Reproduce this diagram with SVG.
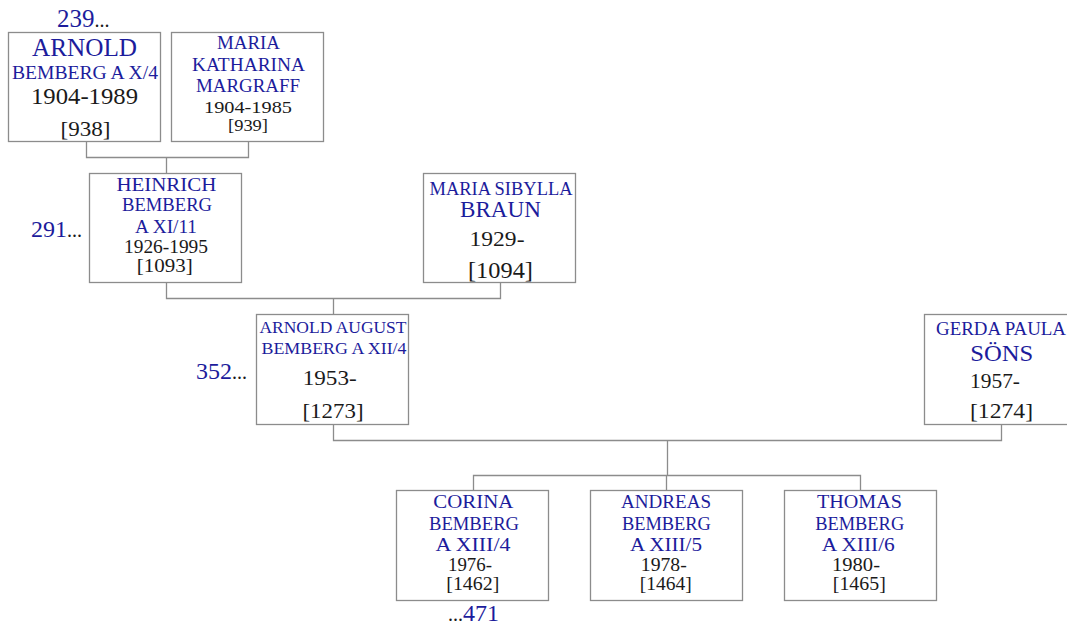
<svg xmlns="http://www.w3.org/2000/svg" width="1067" height="624" viewBox="0 0 1067 624">
<style>
  .box { fill: #ffffff; stroke: #8c8c8c; stroke-width: 1.3; }
  .conn { fill: none; stroke: #8c8c8c; stroke-width: 1.3; }
  text { font-family: "Liberation Serif", "DejaVu Serif", serif; text-anchor: middle; }
  .n { fill: #1c1c9c; }
  .d { fill: #1a1a1a; }
  .ref { text-anchor: start; }
  .dots { fill: #1a1a1a; font-size: 20px; }
  .num { fill: #1c1c9c; font-size: 25px; }
</style>
<rect x="0" y="0" width="1067" height="624" fill="#ffffff"/>

<g id="connectors">
  <path class="conn" d="M86.5,142 V157.5 H248.5 V142 M166.5,157.5 V173"/>
  <path class="conn" d="M166.5,283 V298.5 H500.5 V283 M333.5,298.5 V314"/>
  <path class="conn" d="M333.5,425 V440.5 H1001.5 V425 M667.5,440.5 V475"/>
  <path class="conn" d="M473.5,490 V475.5 H860.5 V490 M666.5,475.5 V490"/>
</g>

<g id="ref-239">
  <text class="ref" x="57" y="27"><tspan class="num">239</tspan><tspan class="dots">...</tspan></text>
</g>
<g id="ref-291">
  <text class="ref" x="31" y="237"><tspan class="num" style="font-size:24px">291</tspan><tspan class="dots">...</tspan></text>
</g>
<g id="ref-352">
  <text class="ref" x="196" y="379"><tspan class="num" style="font-size:24px">352</tspan><tspan class="dots">...</tspan></text>
</g>
<g id="ref-471">
  <text class="ref" x="448" y="621"><tspan class="dots">...</tspan><tspan class="num" style="font-size:24px">471</tspan></text>
</g>

<g id="node-938">
  <rect class="box" x="8.5" y="32.5" width="152" height="109"/>
  <text class="n" x="84.5" y="56" font-size="25" textLength="105" lengthAdjust="spacingAndGlyphs">ARNOLD</text>
  <text class="n" x="85" y="79" font-size="19" textLength="146" lengthAdjust="spacingAndGlyphs">BEMBERG A X/4</text>
  <text class="d" x="84.5" y="104" font-size="23" textLength="107" lengthAdjust="spacingAndGlyphs">1904-1989</text>
  <text class="d" x="85.5" y="136" font-size="22" textLength="50" lengthAdjust="spacingAndGlyphs">[938]</text>
</g>

<g id="node-939">
  <rect class="box" x="171.5" y="32.5" width="152" height="109"/>
  <text class="n" x="248.5" y="49" font-size="18" textLength="63" lengthAdjust="spacingAndGlyphs">MARIA</text>
  <text class="n" x="248.5" y="71" font-size="18" textLength="113" lengthAdjust="spacingAndGlyphs">KATHARINA</text>
  <text class="n" x="248" y="92" font-size="18" textLength="104" lengthAdjust="spacingAndGlyphs">MARGRAFF</text>
  <text class="d" x="248" y="112.5" font-size="17" textLength="88" lengthAdjust="spacingAndGlyphs">1904-1985</text>
  <text class="d" x="248" y="130.5" font-size="16" textLength="40" lengthAdjust="spacingAndGlyphs">[939]</text>
</g>

<g id="node-1093">
  <rect class="box" x="89.5" y="173.5" width="152" height="109"/>
  <text class="n" x="166.4" y="191" font-size="19" textLength="100" lengthAdjust="spacingAndGlyphs">HEINRICH</text>
  <text class="n" x="167" y="211" font-size="19" textLength="90" lengthAdjust="spacingAndGlyphs">BEMBERG</text>
  <text class="n" x="166" y="233" font-size="19" textLength="62" lengthAdjust="spacingAndGlyphs">A XI/11</text>
  <text class="d" x="166" y="253" font-size="19" textLength="84" lengthAdjust="spacingAndGlyphs">1926-1995</text>
  <text class="d" x="164.7" y="272" font-size="19" textLength="56" lengthAdjust="spacingAndGlyphs">[1093]</text>
</g>

<g id="node-1094">
  <rect class="box" x="423.5" y="173.5" width="152" height="109"/>
  <text class="n" x="501" y="195" font-size="18" textLength="143" lengthAdjust="spacingAndGlyphs">MARIA SIBYLLA</text>
  <text class="n" x="500.5" y="217" font-size="23" textLength="81" lengthAdjust="spacingAndGlyphs">BRAUN</text>
  <text class="d" x="497" y="246" font-size="22" textLength="55" lengthAdjust="spacingAndGlyphs">1929-</text>
  <text class="d" x="500.5" y="278" font-size="23" textLength="65" lengthAdjust="spacingAndGlyphs">[1094]</text>
</g>

<g id="node-1273">
  <rect class="box" x="256.5" y="314.5" width="152" height="110"/>
  <text class="n" x="333" y="333" font-size="17" textLength="147" lengthAdjust="spacingAndGlyphs">ARNOLD AUGUST</text>
  <text class="n" x="334" y="354" font-size="17" textLength="145" lengthAdjust="spacingAndGlyphs">BEMBERG A XII/4</text>
  <text class="d" x="329.7" y="385" font-size="22" textLength="54" lengthAdjust="spacingAndGlyphs">1953-</text>
  <text class="d" x="333" y="418" font-size="22" textLength="61" lengthAdjust="spacingAndGlyphs">[1273]</text>
</g>

<g id="node-1274">
  <rect class="box" x="924.5" y="314.5" width="152" height="110"/>
  <text class="n" x="1001" y="335" font-size="18" textLength="130" lengthAdjust="spacingAndGlyphs">GERDA PAULA</text>
  <text class="n" x="1001.7" y="361" font-size="23" textLength="63" lengthAdjust="spacingAndGlyphs">SÖNS</text>
  <text class="d" x="995" y="387.5" font-size="22" textLength="50" lengthAdjust="spacingAndGlyphs">1957-</text>
  <text class="d" x="1001.5" y="418" font-size="22" textLength="63" lengthAdjust="spacingAndGlyphs">[1274]</text>
</g>

<g id="node-1462">
  <rect class="box" x="396.5" y="490.5" width="152" height="110"/>
  <text class="n" x="473.3" y="508" font-size="19" textLength="80" lengthAdjust="spacingAndGlyphs">CORINA</text>
  <text class="n" x="474" y="530" font-size="19" textLength="90" lengthAdjust="spacingAndGlyphs">BEMBERG</text>
  <text class="n" x="473" y="551" font-size="19" textLength="75" lengthAdjust="spacingAndGlyphs">A XIII/4</text>
  <text class="d" x="470" y="571" font-size="18" textLength="44" lengthAdjust="spacingAndGlyphs">1976-</text>
  <text class="d" x="472.8" y="589.5" font-size="18" textLength="53" lengthAdjust="spacingAndGlyphs">[1462]</text>
</g>

<g id="node-1464">
  <rect class="box" x="590.5" y="490.5" width="152" height="110"/>
  <text class="n" x="666" y="508" font-size="19" textLength="90" lengthAdjust="spacingAndGlyphs">ANDREAS</text>
  <text class="n" x="666.4" y="530" font-size="19" textLength="89" lengthAdjust="spacingAndGlyphs">BEMBERG</text>
  <text class="n" x="666" y="551" font-size="19" textLength="72" lengthAdjust="spacingAndGlyphs">A XIII/5</text>
  <text class="d" x="663.8" y="571" font-size="18" textLength="46" lengthAdjust="spacingAndGlyphs">1978-</text>
  <text class="d" x="665.7" y="589.5" font-size="18" textLength="52" lengthAdjust="spacingAndGlyphs">[1464]</text>
</g>

<g id="node-1465">
  <rect class="box" x="784.5" y="490.5" width="152" height="110"/>
  <text class="n" x="859.5" y="508" font-size="19" textLength="85" lengthAdjust="spacingAndGlyphs">THOMAS</text>
  <text class="n" x="859.7" y="530" font-size="19" textLength="89" lengthAdjust="spacingAndGlyphs">BEMBERG</text>
  <text class="n" x="858.3" y="551" font-size="19" textLength="73" lengthAdjust="spacingAndGlyphs">A XIII/6</text>
  <text class="d" x="856" y="571" font-size="18" textLength="48" lengthAdjust="spacingAndGlyphs">1980-</text>
  <text class="d" x="859.3" y="589.5" font-size="18" textLength="53" lengthAdjust="spacingAndGlyphs">[1465]</text>
</g>
</svg>
